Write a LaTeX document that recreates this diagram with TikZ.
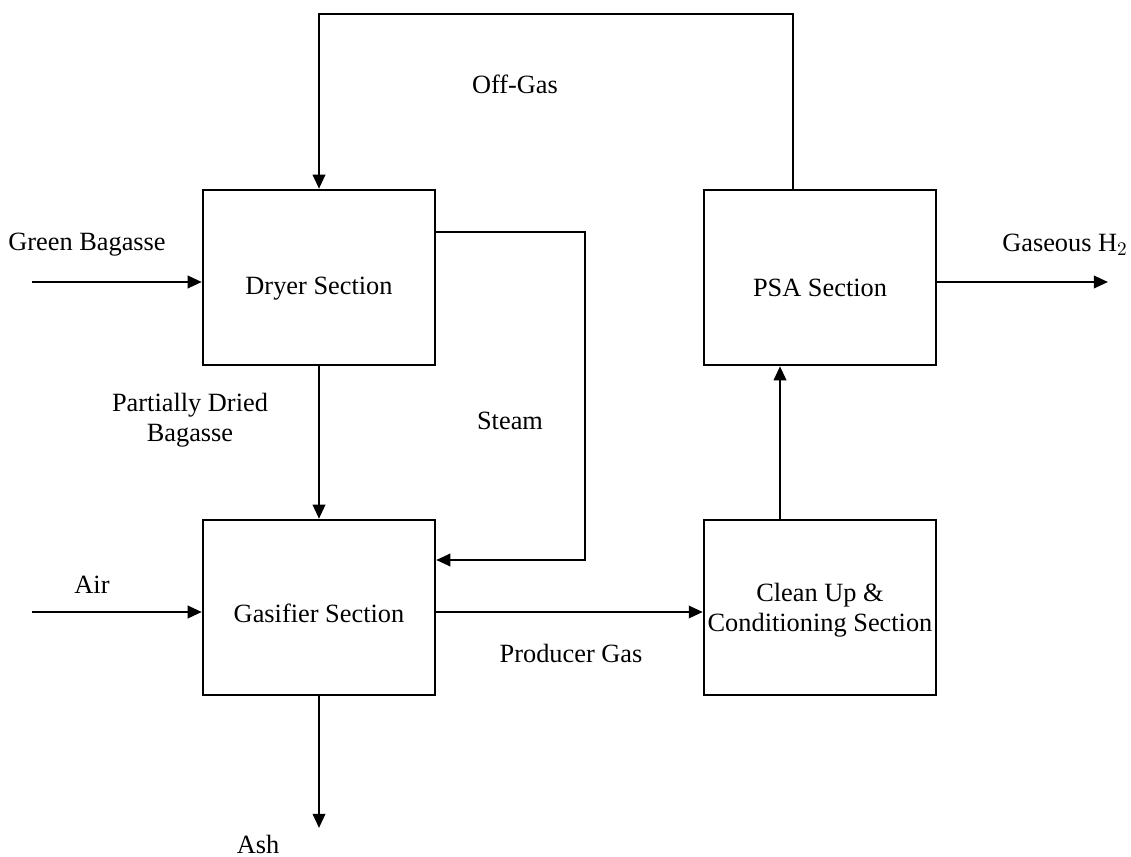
\documentclass[tikz,border=0pt]{standalone}
\usepackage{fontspec}
\setmainfont{Liberation Serif}
\usetikzlibrary{arrows.meta}
\tikzstyle{unit}=[draw, line width=1.4pt, minimum width=4.64cm, minimum height=3.5cm, inner sep=0]
\tikzstyle{flow}=[line width=1.4pt, -{Triangle[length=8pt,width=7pt]}]
\tikzstyle{lbl}=[align=center, inner sep=0, font=\fontsize{15}{17}\selectfont]

\begin{document}
\begin{tikzpicture}[x=0.02cm, y=-0.02cm]
\useasboundingbox (0,0) rectangle (1131,857);
\node at (319,277.5)[unit, label={[lbl,yshift=-0.22cm]center:Dryer Section}](dryer){};
\node at (319,607.5)[unit, label={[lbl,yshift=-0.12cm]center:Gasifier Section}](gasifier){};
\node at (820,277.5)[unit, label={[lbl,yshift=-0.2cm]center:PSA Section}](psa){};
\node at (820,607.5)[unit, label={[lbl,yshift=-0.06cm]center:Clean Up \&\\Conditioning Section}](clean){};
\coordinate (gb) at (32,282);
\coordinate (air) at (32,612);
\coordinate (ash) at (319,828);
\coordinate (h2) at (1108,282);
\coordinate (s1) at (585,232);
\coordinate (s2) at (585,560);
\coordinate (og) at (793,14);
\coordinate (up) at (780,0);
\draw[flow] (gb) -- (gb -| dryer.west);
\draw[flow] (air) -- (air -| gasifier.west);
\draw[flow] (dryer.south) -- (gasifier.north);
\draw[flow] (dryer.east |- s1) -- (s1) -- (s2) -- (s2 -| gasifier.east);
\draw[flow] (gasifier.east |- air) -- (clean.west |- air);
\draw[flow] (gasifier.south) -- (ash);
\draw[flow] (clean.north -| up) -- (psa.south -| up);
\draw[flow] (psa.east |- h2) -- (h2);
\draw[flow] (psa.north -| og) -- (og) -- (og -| dryer.north) -- (dryer.north);
\node at (87,245)[lbl](gblbl){Green Bagasse};
\node at (92,585)[lbl](airlbl){Air};
\node at (190,420)[lbl](pdlbl){Partially Dried\\Bagasse};
\node at (510,421)[lbl](stlbl){Steam};
\node at (571,653)[lbl](pglbl){Producer Gas};
\node at (258,844)[lbl](ashlbl){Ash};
\node at (515,84)[lbl](oglbl){Off-Gas};
\node at (1065,245)[lbl](h2lbl){Gaseous H$_2$};
\end{tikzpicture}
\end{document}
